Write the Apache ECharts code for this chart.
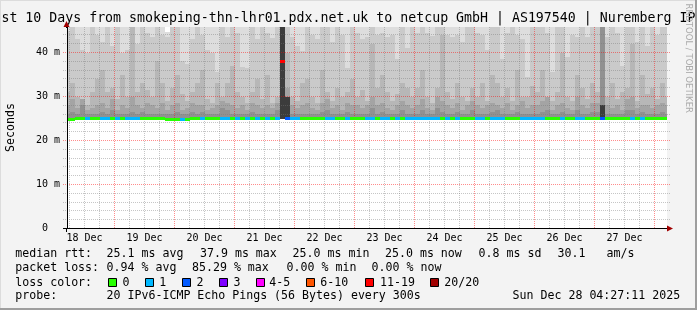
<!DOCTYPE html>
<html><head><meta charset="utf-8">
<script src="https://cdn.jsdelivr.net/npm/echarts@6/dist/echarts.min.js"></script>
<style>html,body{margin:0;padding:0;background:#f3f3f3}#c{width:697px;height:310px}</style>
</head><body><div id="c"></div>
<script>
// x axis: hours after 18 Dec 00:00
const xMin = 5, xMax = 245, colHours = 2, yMax = 45.8;
const dayLabels = ['18 Dec','19 Dec','20 Dec','21 Dec','22 Dec','23 Dec','24 Dec','25 Dec','26 Dec','27 Dec'];
const dayNoonHours = [12,36,60,84,108,132,156,180,204,228];
const minorHours = [6,12,18,30,36,42,54,60,66,78,84,90,102,108,114,126,132,138,150,156,162,174,180,186,198,204,210,222,228,234];
const majorHours = [24,48,72,96,120,144,168,192,216,240];
const minorMs = [2,4,6,8,12,14,16,18,22,24,26,28,32,34,36,38,42,44];
const majorMs = [10,20,30,40];
const bandBase = 24.9;

// smoke band tops (ms), one value per 2-hour column starting at hour 4
const p20 = [45.8,45.8,45.8,45.8,45.8,45.8,45.8,45.8,45.8,45.8,
 45.8,45.8,45.8,45.8,45.8,45.8,45.8,45.8,45.8,45.8,
 44.7,45.8,45.8,45.8,45.8,45.8,45.8,45.8,45.8,45.8,
 45.8,45.8,45.8,45.8,45.8,45.8,45.8,45.8,45.8,45.8,
 45.8,45.8,45.8,45.8,45.8,45.8,45.8,45.8,45.8,45.8,
 45.8,45.8,45.8,45.8,45.8,45.8,45.8,45.8,45.8,45.8,
 45.8,45.8,45.8,45.8,45.8,45.8,45.8,45.8,45.8,45.8,
 45.8,45.8,45.8,45.8,45.8,45.8,45.8,45.8,45.8,45.8,
 45.8,45.8,45.8,45.8,45.8,45.8,45.8,45.8,45.8,45.8,
 45.8,45.8,45.8,45.8,45.8,45.8,45.8,45.8,45.8,45.8,
 45.8,45.8,45.8,45.8,45.8,45.8,45.8,45.8,45.8,45.8,
 45.8,45.8,45.8,45.8,45.8,45.8,45.8,45.8,45.8,45.8,45.8];
const p19 = [45,45.8,43,40.5,40,45.8,44,42.5,45.8,41.4,
 45.8,39.8,40.5,45.8,42,45.8,44.5,43.6,45.8,44,
 43.5,45.8,45.8,38,37.5,43,45.8,44,40.5,40,
 35.5,45.8,43.6,45.8,44.5,36.8,36.5,45.8,43,45.8,
 44.5,43.3,45.8,45.8,45.8,43.6,41.4,40.3,45.8,44,
 43,45.8,45.8,42.3,45.8,44,36.5,45.8,44.5,43,
 43.5,45.8,44,44.5,43.5,44,38.5,45.8,41,45.8,
 44.5,45.8,44.5,43.8,45.8,45.8,44,43.5,44,42.5,
 45.8,45.8,44.5,44,40.5,45.8,45.8,38.5,44.5,45.8,
 44,43,34.5,45.8,45.8,45.8,44.5,35.5,45.8,45.8,
 39,44,43.5,45.8,43.6,45.8,45.8,45.8,43.6,45.8,
 44.5,37,45.8,45.8,42.5,45.8,41.5,45.8,44,45.8,45.8];
const p18 = [31,33,30,29.5,28,31,34,36,31,32,
 29.5,35,30,45.8,31,33,31.5,30,38,33,
 29,32,35,30.5,29,31,33,36,29.5,28.5,
 33,30,33,37,31,30,28.5,31,34,29.5,
 35,28.5,30,45.8,40,30,29,33,34,30,
 28.5,36,31,29,32,30,31,34,30,31.5,
 29,42,32,35,31,29,30.5,33,32,30,
 32,36,30,28.5,32,44,31,29.5,33,30,
 29,32,30,33,29,35,33,30,32,29,
 36,30,30,32.5,31,36,30,29,31,40,
 30,29,35,32,29.5,33,31,45.8,30,33,
 29.5,31,32,42,29,35,30.5,32,29.5,33,30];
const p17 = [28,29.5,27.5,29.5,27,27.5,28,28.5,27.5,29.5,
 27,28,27.5,30,28,27.5,28.5,28,27.5,28.5,
 27,28,28.5,27,27.5,28.5,28,28,27,27.5,
 28,29,28.5,28,27.5,28,27,28.5,28,27.5,
 28,27.5,28.5,45.8,32,28,27.5,28,28.5,27.5,
 27,28.5,29.5,27.5,28,27,28.5,28,28,27.5,
 28,30,28,28.5,27.5,27,28,29,28,27.5,
 28,29.5,27.5,27,30,29,28,27.5,28.5,27,
 28,29,28,27.5,28,28.5,28,27.5,28.5,27,
 28,29,27.5,28,28,29,30,27,28,28.5,
 27.5,27,30,28,27.5,28.5,28.5,45.8,28,27.5,
 28,27,29.5,30,27.5,28,28,27.5,28,28.5,28];
const p16 = [26,26.5,26,28,26,26,26,26.5,26,27,
 26,26,26,26.5,26,26.5,26,26,26,26,
 26,26,26.5,26,26,26.5,26,26.5,26,26,
 26,27.5,27,26,26,26,26,26.5,26,26,
 26,26,27,45.8,30,26,26,26,26,26,
 26,26.5,27,26,26,26,26.5,26,26,26,
 26,27.5,26,26.5,26,26,26,27,26,26,
 26,27,26,26,27.5,26.5,26,26,26.5,26,
 26,27,26,26,26,26.5,27,26,26,26,
 26.5,26,26,26,26,26.5,27,26,26,26.5,
 26,26,27,26,26,26.5,26.5,45.8,26,26,
 26,26,27,27,26,26.5,26,26,26,26.5,26];
const pCore = [25,25,25,25,25,25,25,25,25,25,
 25,25,25,25,25,25,25,25,25,25,
 25,25,25,25,25,25,25,25,25,25,
 25,25,25,25,25,25,25,25,25,25,
 25,25,25,45.8,29.8,25,25,25,25,25,
 25,25,25,25,25,25,25,25,25,25,
 25,25,25,25,25,25,25,25,25,25,
 25,25,25,25,25,25,25,25,25,25,
 25,25,25,25,25,25,25,25,25,25,
 25,25,25,25,25,25,25,25,25,25,
 25,25,25,25,25,25,25,28,25,25,
 25,25,25,25,25,25,25,25,25,25,25];
const medianRtt = [24.7,24.7,25,25,25,25,25,25,25,25,
 25,25,25,25,25,25,25,25,25,25,
 24.7,24.7,24.7,24.7,24.7,25,25,25,25,25,
 25,25,25,25,25,25,25,25,25,25,
 25,25,25,37.9,25,25,25,25,25,25,
 25,25,25,25,25,25,25,25,25,25,
 25,25,25,25,25,25,25,25,25,25,
 25,25,25,25,25,25,25,25,25,25,
 25,25,25,25,25,25,25,25,25,25,
 25,25,25,25,25,25,25,25,25,25,
 25,25,25,25,25,25,25,25,25,25,
 25,25,25,25,25,25,25,25,25,25,25];
// loss class index per column (0 = none ... 7 = 20/20)
const lossClass = [0,0,0,0,1,0,0,1,1,0,
 1,0,1,1,1,0,0,0,0,0,
 0,0,0,1,0,0,0,1,0,0,
 0,1,1,0,1,0,1,0,1,0,
 1,0,1,6,2,1,1,0,0,0,
 0,0,1,1,0,0,1,0,0,0,
 1,1,0,1,1,0,1,0,1,1,
 1,1,1,1,1,0,1,0,1,0,
 0,0,1,1,0,1,1,1,0,0,
 0,1,1,1,1,1,0,0,0,1,
 0,0,1,1,0,0,0,2,0,0,
 0,0,0,1,0,1,0,0,0,0,0];

const lossLabels = ['0','1','2','3','4-5','6-10','11-19','20/20'];
const lossColors = ['#26ff00','#00b8ff','#0059ff','#7e00ff','#ff00ff','#ff5500','#ff0000','#a10000'];
const bandColors = ['#dddddd','#cacaca','#b7b7b7','#a4a4a4','#919191','#3c3c3c'];

const colStart = p20.map((_, j) => 4 + colHours * j);
const smokeData = colStart.map((h, j) => [h, p20[j], p19[j], p18[j], p17[j], p16[j], pCore[j]]);
const medianData = colStart.map((h, j) => [h, medianRtt[j], lossClass[j]]);
const vGridData = minorHours.map(h => [h, 0]).concat(majorHours.map(h => [h, 1]));
const hGridData = minorMs.map(v => [xMin, v, 0]).concat(majorMs.map(v => [xMin, v, 1]));

const FONT = 'DejaVu Sans Mono';
const chart = echarts.init(document.getElementById('c'), null, {renderer: 'canvas', width: 697, height: 310});

function colX(api, h) {
  const hs = Math.max(h, xMin), he = Math.min(h + colHours, xMax);
  return [Math.round(api.coord([hs, 0])[0]), Math.round(api.coord([he, 0])[0])];
}

const majorGrid = 'rgba(255,0,0,0.45)';
const minorGrid = 'rgba(120,120,120,0.42)';

const txt = (x, y, s, extra) => Object.assign({type: 'text', x: x, y: y, silent: true,
  style: {text: s, fill: '#000', font: '11.6px "' + FONT + '"', verticalAlign: 'middle', align: 'left'}}, extra || {});

const graphics = [
  {type: 'rect', shape: {x: 0, y: 0, width: 697, height: 1}, style: {fill: '#dcdcdc'}, silent: true},
  {type: 'rect', shape: {x: 0, y: 0, width: 1, height: 310}, style: {fill: '#dcdcdc'}, silent: true},
  {type: 'rect', shape: {x: 695, y: 0, width: 2, height: 310}, style: {fill: '#9e9e9e'}, silent: true},
  {type: 'rect', shape: {x: 0, y: 308, width: 697, height: 2}, style: {fill: '#9e9e9e'}, silent: true},
  {type: 'text', x: 1.4, y: 18.7, silent: true, style: {text: 'st 10 Days from smokeping-thn-lhr01.pdx.net.uk to netcup GmbH | AS197540 | Nuremberg IP',
    fill: '#000', font: '13.25px "' + FONT + '"', verticalAlign: 'middle', align: 'left'}},
  {type: 'text', x: 688.5, y: 3.5, rotation: -Math.PI / 2, silent: true, style: {text: 'RRDTOOL / TOBI OETIKER',
    fill: '#aaaaaa', font: '8.5px "DejaVu Sans"', verticalAlign: 'middle', align: 'left'}},
  {type: 'text', x: 10.5, y: 127.5, rotation: Math.PI / 2, silent: true, style: {text: 'Seconds',
    fill: '#000', font: '11.6px "' + FONT + '"', verticalAlign: 'middle', align: 'center'}},
  {type: 'line', shape: {x1: 66.5, y1: 228, x2: 66.5, y2: 232}, style: {stroke: '#000', lineWidth: 1}, silent: true},
  {type: 'line', shape: {x1: 63, y1: 228.5, x2: 67, y2: 228.5}, style: {stroke: '#000', lineWidth: 1}, silent: true},
  {type: 'line', shape: {x1: 666, y1: 228.5, x2: 670, y2: 228.5}, style: {stroke: '#000', lineWidth: 1}, silent: true},
  {type: 'line', shape: {x1: 66.5, y1: 28, x2: 66.5, y2: 23}, style: {stroke: '#000', lineWidth: 1}, silent: true},
  {type: 'polygon', shape: {points: [[667, 225.5], [673, 228.5], [667, 231.5]]}, style: {fill: '#a00000'}, silent: true, z: 10},
  {type: 'polygon', shape: {points: [[63.5, 27], [66.5, 21], [69.5, 27]]}, style: {fill: '#a00000'}, silent: true, z: 10},
  txt(15.3, 254, 'median rtt:'), txt(106.6, 254, '25.1 ms avg'), txt(200, 254, '37.9 ms max'),
  txt(292.6, 254, '25.0 ms min'), txt(385, 254, '25.0 ms now'), txt(478.6, 254, '0.8 ms sd'), txt(557.6, 254, '30.1   am/s'),
  txt(15.3, 268, 'packet loss:'), txt(106.6, 268, '0.94 % avg'), txt(192, 268, '85.29 % max'),
  txt(286.6, 268, '0.00 % min'), txt(371.6, 268, '0.00 % now'),
  txt(15.3, 282.5, 'loss color:'),
  txt(15.3, 296, 'probe:'), txt(106.6, 296, '20 IPv6-ICMP Echo Pings (56 Bytes) every 300s'),
  txt(512.6, 296, 'Sun Dec 28 04:27:11 2025')
];
const boxX = [108.5, 145.5, 182.5, 219.5, 256.5, 306.5, 365.5, 430.5];
const boxTextX = [122.6, 159.3, 196.6, 233.6, 269.3, 320.3, 380, 444.3];
lossLabels.forEach((l, i) => {
  graphics.push({type: 'rect', shape: {x: boxX[i], y: 278.5, width: 8, height: 8}, style: {fill: lossColors[i], stroke: '#000', lineWidth: 1}, silent: true});
  graphics.push(txt(boxTextX[i], 282.5, l));
});

const option = {
  animation: false,
  backgroundColor: '#f3f3f3',
  textStyle: {fontFamily: FONT},
  grid: {left: 67, top: 27, width: 600, height: 201.5, show: true, backgroundColor: '#ffffff', borderWidth: 0},
  xAxis: {type: 'value', min: xMin, max: xMax, z: 6,
      axisLine: {show: true, lineStyle: {color: '#000', width: 1}},
      axisTick: {show: false},
      axisLabel: {show: true, customValues: dayNoonHours, color: '#000', fontSize: 10, fontFamily: FONT, margin: 4.5, lineHeight: 10,
        formatter: v => dayLabels[dayNoonHours.indexOf(v)] || ''},
      splitLine: {show: false}},
  yAxis: {type: 'value', min: 0, max: yMax, interval: 10, z: 6,
      axisLine: {show: true, lineStyle: {color: '#000', width: 1}},
      axisTick: {show: false},
      axisLabel: {color: '#000', fontSize: 10, fontFamily: FONT, margin: 7, showMaxLabel: false,
        formatter: v => (v === 0 ? '0  ' : v + ' m')},
      splitLine: {show: false}},
  series: [
    {type: 'custom', name: 'smoke', z: 1, silent: true,
      data: smokeData,
      renderItem: (params, api) => {
        const h = api.value(0);
        const [xa, xb] = colX(api, h);
        const yb = Math.round(api.coord([h, bandBase])[1]);
        const children = [];
        for (let k = 0; k < 6; k++) {
          const yt = Math.round(api.coord([h, api.value(k + 1)])[1]);
          if (yb - yt > 0) children.push({type: 'rect', shape: {x: xa, y: yt, width: xb - xa, height: yb - yt}, style: {fill: bandColors[k]}});
        }
        return {type: 'group', children: children};
      }},
    {type: 'custom', name: 'vgrid', z: 3, silent: true,
      data: vGridData,
      renderItem: (params, api) => {
        const h = api.value(0);
        const x = Math.floor(api.coord([h, 0])[0]) + 0.5;
        const yt = api.coord([h, yMax])[1], yb = Math.floor(api.coord([h, 0])[1]);
        return {type: 'line', shape: {x1: x, y1: yt, x2: x, y2: yb},
          style: {stroke: api.value(1) ? majorGrid : minorGrid, lineWidth: 1, lineDash: [1, 1]}};
      }},
    {type: 'custom', name: 'hgrid', z: 3, silent: true, clip: false,
      data: hGridData,
      renderItem: (params, api) => {
        const v = api.value(1);
        const y = Math.floor(api.coord([xMin, v])[1]) + 0.5;
        const xa = api.coord([xMin, v])[0] - 4, xb = api.coord([xMax, v])[0] + 3;
        return {type: 'line', shape: {x1: xa, y1: y, x2: xb, y2: y},
          style: {stroke: api.value(2) ? majorGrid : minorGrid, lineWidth: 1, lineDash: [1, 1]}};
      }},
    {type: 'custom', name: 'median', z: 5, silent: true,
      data: medianData,
      renderItem: (params, api) => {
        const h = api.value(0);
        const [xa, xb] = colX(api, h);
        const ym = api.coord([h, api.value(1)])[1];
        const y0 = Math.floor(ym - 1.5);
        return {type: 'rect', shape: {x: xa, y: y0, width: xb - xa, height: 3}, style: {fill: lossColors[api.value(2)]}};
      }}
  ],
  graphic: graphics
};
chart.setOption(option);
</script></body></html>
